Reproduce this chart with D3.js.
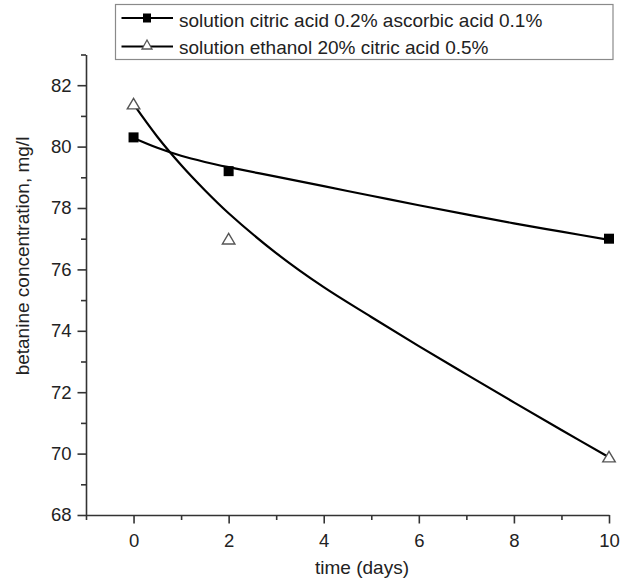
<!DOCTYPE html>
<html>
<head>
<meta charset="utf-8">
<script src="https://cdn.jsdelivr.net/npm/d3@7"></script>
<style>
  html, body { margin: 0; padding: 0; background: #fff; }
  svg { display: block; font-family: "Liberation Sans", Arial, sans-serif; }
</style>
</head>
<body>
<svg id="chart" width="620" height="582"></svg>
<script>
// Measured betanine concentrations (mg/l) over storage time (days)
const days = [0, 2, 10];
const citricAscorbic = [80.3, 79.2, 77.0];
const ethanolCitric = [81.4, 77.0, 69.9];

// Fitted trend curves for each solution, sampled along the time axis
const fitDays = [0, 0.5, 1, 1.5, 2, 3, 4, 5, 6, 7, 8, 9, 10];
const fitCitricAscorbic = [80.28, 79.96, 79.70, 79.50, 79.33, 79.02, 78.71, 78.40, 78.09, 77.79, 77.50, 77.23, 76.96];
const fitEthanolCitric = [81.38, 80.32, 79.40, 78.58, 77.83, 76.53, 75.42, 74.45, 73.50, 72.58, 71.67, 70.77, 69.88];

// Axis ticks
const xMajorTicks = [0, 2, 4, 6, 8, 10];
const xMinorTicks = [-1, 1, 3, 5, 7, 9];
const yMajorTicks = [68, 70, 72, 74, 76, 78, 80, 82];
const yMinorTicks = [69, 71, 73, 75, 77, 79, 81, 83];

const seriesNames = [
  "solution citric acid 0.2% ascorbic acid 0.1%",
  "solution ethanol 20% citric acid 0.5%"
];

const svg = d3.select("#chart");
const axisColor = "#333";

const x = d3.scaleLinear().domain([-1, 10]).range([86, 609]);
const y = d3.scaleLinear().domain([68, 83]).range([515, 54.5]);

// ---- Axes ----
function styleAxis(g) {
  g.select(".domain").attr("stroke", axisColor).attr("stroke-width", 1.6);
  g.selectAll(".tick line").attr("stroke", axisColor).attr("stroke-width", 1.6);
  g.selectAll(".tick text").attr("fill", "#222").style("font-size", "18.5px")
    .style("font-family", "'Liberation Sans', Arial, sans-serif");
}

const yMinor = svg.append("g").attr("transform", `translate(${x(-1)},0)`)
  .call(d3.axisLeft(y).tickValues(yMinorTicks).tickSize(5).tickSizeOuter(0).tickFormat(""));
styleAxis(yMinor);
yMinor.select(".domain").remove();

const yAxis = svg.append("g").attr("transform", `translate(${x(-1)},0)`)
  .call(d3.axisLeft(y).tickValues(yMajorTicks).tickSize(8.5).tickSizeOuter(0).tickPadding(6));
styleAxis(yAxis);

const xMinor = svg.append("g").attr("transform", `translate(0,${y(68)})`)
  .call(d3.axisBottom(x).tickValues(xMinorTicks).tickSize(5).tickSizeOuter(0).tickFormat(""));
styleAxis(xMinor);
xMinor.select(".domain").remove();

const xAxis = svg.append("g").attr("transform", `translate(0,${y(68)})`)
  .call(d3.axisBottom(x).tickValues(xMajorTicks).tickSize(8.5).tickSizeOuter(0).tickPadding(10));
styleAxis(xAxis);

// Axis titles
svg.append("text")
  .attr("x", 362).attr("y", 574)
  .attr("text-anchor", "middle")
  .style("font-size", "19px").attr("fill", "#222")
  .text("time (days)");

svg.append("text")
  .attr("transform", "translate(28.5,256) rotate(-90)")
  .attr("text-anchor", "middle")
  .style("font-size", "19px").attr("fill", "#222")
  .text("betanine concentration, mg/l");

// ---- Fitted curves ----
const line = d3.line()
  .x(d => x(d[0]))
  .y(d => y(d[1]))
  .curve(d3.curveCatmullRom.alpha(0.5));

const fits = [fitCitricAscorbic, fitEthanolCitric];
fits.forEach(vals => {
  svg.append("path")
    .datum(fitDays.map((d, i) => [d, vals[i]]))
    .attr("d", line)
    .attr("fill", "none")
    .attr("stroke", "#000")
    .attr("stroke-width", 2.2);
});

// ---- Markers ----
const squareSize = 10;
svg.append("g").selectAll("rect")
  .data(days.map((d, i) => [d, citricAscorbic[i]]))
  .join("rect")
  .attr("x", d => x(d[0]) - squareSize / 2)
  .attr("y", d => y(d[1]) - squareSize / 2)
  .attr("width", squareSize)
  .attr("height", squareSize)
  .attr("fill", "#000");

function trianglePath(cx, cy, w, h) {
  return `M${cx},${cy - h / 2}L${cx + w / 2},${cy + h / 2}L${cx - w / 2},${cy + h / 2}Z`;
}

svg.append("g").selectAll("path")
  .data(days.map((d, i) => [d, ethanolCitric[i]]))
  .join("path")
  .attr("d", d => trianglePath(x(d[0]), y(d[1]), 12.5, 10.5))
  .attr("fill", "#fff")
  .attr("stroke", "#555")
  .attr("stroke-width", 1.4)
  .attr("stroke-linejoin", "miter");

// ---- Legend ----
const legend = svg.append("g");
legend.append("rect")
  .attr("x", 115.5).attr("y", 4.5)
  .attr("width", 497.5).attr("height", 55)
  .attr("fill", "#fff")
  .attr("stroke", "#8a8a8a")
  .attr("stroke-width", 1.2);

const rowY = [18, 46.5];
seriesNames.forEach((name, i) => {
  const ly = rowY[i];
  legend.append("line")
    .attr("x1", 121.5).attr("x2", 173)
    .attr("y1", ly).attr("y2", ly)
    .attr("stroke", "#000").attr("stroke-width", 2);
  if (i === 0) {
    legend.append("rect")
      .attr("x", 143).attr("y", ly - 4.5)
      .attr("width", 8).attr("height", 9)
      .attr("fill", "#000");
  } else {
    legend.append("path")
      .attr("d", trianglePath(147, ly - 2, 10, 9))
      .attr("fill", "#fff")
      .attr("stroke", "#555")
      .attr("stroke-width", 1.3);
  }
  legend.append("text")
    .attr("x", 179).attr("y", ly + 8.5 + (i === 1 ? -1 : 0))
    .style("font-size", "19px").attr("fill", "#222")
    .text(name);
});
</script>
</body>
</html>
